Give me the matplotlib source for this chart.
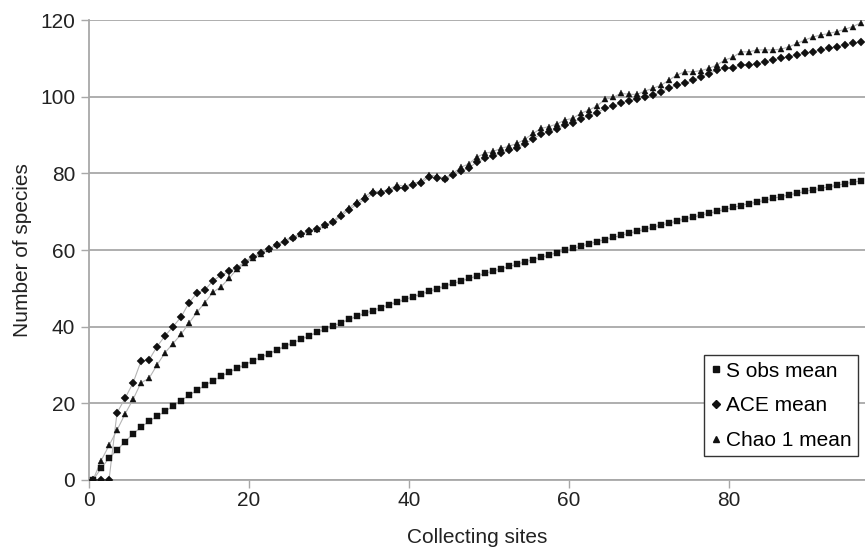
import numpy as np
import matplotlib
matplotlib.use("Agg")
import matplotlib.pyplot as plt
from matplotlib.lines import Line2D

plt.rcParams['font.family'] = ['Liberation Sans', 'DejaVu Sans']

# --- DATA (number of collecting sites 0..96) ---
sites = np.arange(0, 97)

s_obs_mean = [
    0, 3, 5.7, 7.8, 10, 12, 13.8, 15.3, 16.6, 17.9,
    19.3, 20.7, 22.1, 23.4, 24.7, 25.9, 27, 28.1, 29.1, 30.1,
    31.1, 32, 33, 33.9, 34.9, 35.8, 36.7, 37.6, 38.5, 39.4,
    40.2, 41, 41.9, 42.7, 43.5, 44.2, 45, 45.7, 46.4, 47.1,
    47.8, 48.5, 49.2, 49.9, 50.6, 51.3, 51.9, 52.6, 53.2, 53.9,
    54.5, 55.1, 55.7, 56.3, 56.9, 57.5, 58.1, 58.7, 59.3, 59.9,
    60.5, 61, 61.6, 62.2, 62.7, 63.3, 63.8, 64.4, 64.9, 65.4,
    66, 66.5, 67, 67.6, 68.1, 68.6, 69.1, 69.6, 70.1, 70.6,
    71.1, 71.6, 72.1, 72.5, 73, 73.5, 73.9, 74.4, 74.8, 75.3,
    75.7, 76.1, 76.5, 76.9, 77.3, 77.7, 78,
]

ace_mean = [
    0, 0, 0, 17.5, 21.3, 25.3, 31, 31.3, 34.8, 37.6,
    40, 42.5, 46.2, 48.8, 49.6, 52, 53.4, 54.4, 55.4, 57,
    58.3, 59.2, 60.3, 61.3, 62.2, 63.2, 64.1, 65, 65.6, 66.4,
    67.2, 68.8, 70.5, 71.9, 73.3, 74.8, 75, 75.5, 76.3, 76.3,
    77, 77.5, 79, 78.8, 78.5, 79.6, 80.6, 81.4, 83, 83.9,
    84.5, 85.3, 86, 86.6, 87.7, 89, 90.2, 90.8, 91.6, 92.6,
    93.2, 94.3, 95, 95.8, 97, 97.5, 98.3, 99, 99.3, 100,
    100.4, 101.3, 102.2, 103, 103.5, 104.3, 105.2, 106, 107, 107.4,
    107.4, 108.3, 108.3, 108.5, 109.1, 109.6, 110, 110.4, 110.9, 111.3,
    111.7, 112.2, 112.6, 113, 113.5, 113.9, 114.3,
]

chao1_mean = [
    0, 5, 9, 13, 17.2, 21, 25.4, 26.5, 30, 33.2,
    35.6, 38, 40.9, 43.8, 46.3, 49, 50.4, 52.6, 55, 56.6,
    58, 59, 60.3, 61.5, 62.6, 63.4, 64.2, 64.8, 65.5, 66.5,
    67.5, 69.3, 71, 72.5, 74, 75.3, 75.3, 75.8, 77, 76.6,
    77.4, 77.9, 79.6, 79.2, 78.8, 80, 81.6, 82.5, 84.3, 85.2,
    85.7, 86.5, 87.1, 87.8, 88.9, 90.4, 91.7, 92.2, 92.9, 93.9,
    94.4, 95.7, 96.5, 97.6, 99.3, 99.8, 100.9, 100.6, 100.6, 101.5,
    102.2, 103, 104.3, 105.7, 106.5, 106.5, 106.8, 107.4, 108.3, 109.6,
    110.3, 111.7, 111.7, 112.2, 112.2, 112.2, 112.4, 113, 113.9, 114.8,
    115.6, 116.1, 116.5, 117, 117.6, 118.3, 119.3,
]

labels = ['S obs mean', 'ACE mean', 'Chao 1 mean']
markers = ['s', 'D', '^']
sizes = [4, 4, 5]

# --- PLOT ---
fig = plt.figure(figsize=(8.65, 5.47), dpi=100)
ax = fig.add_axes([0.1029, 0.1225, 0.8971, 0.8409])

# categories sit in the middle of each slot (excel style)
xpos = sites + 0.5
for vals, m, ms in zip([s_obs_mean, ace_mean, chao1_mean], markers, sizes):
    ax.plot(xpos, vals, color='#b4b4b4', linewidth=0.8, zorder=2)
    ax.plot(xpos, vals, linestyle='none', marker=m, markersize=ms,
            markerfacecolor='#111111', markeredgecolor='#111111',
            markeredgewidth=0.3, zorder=3)

ax.set_xlim(0, 97)
ax.set_ylim(0, 120)
ax.set_xticks([0, 20, 40, 60, 80])
ax.set_yticks(np.arange(0, 121, 20))

ax.grid(axis='y', color='#a8a8a8', linewidth=1.3)
ax.set_axisbelow(True)
for side in ['top', 'right']:
    ax.spines[side].set_visible(False)
ax.spines['left'].set_color('#a8a8a8')
ax.spines['bottom'].set_color('#a8a8a8')
ax.spines['left'].set_linewidth(1.3)
ax.spines['bottom'].set_linewidth(1.3)
ax.tick_params(axis='both', colors='#a8a8a8', labelcolor='#222222',
               labelsize=15, length=6, width=1)
ax.tick_params(axis='x', pad=2)
ax.tick_params(axis='y', pad=4)

ax.set_xlabel('Collecting sites', fontsize=15, color='#222222', labelpad=13)
ax.set_ylabel('Number of species', fontsize=15, color='#222222', labelpad=6)

handles = [Line2D([], [], linestyle='none', marker=m, markersize=4,
                  color='#111111') for m in markers]
leg = ax.legend(handles, labels, loc='lower right',
                bbox_to_anchor=(0.991, 0.052), borderaxespad=0,
                fontsize=15, handlelength=0.5, handletextpad=0.25,
                labelspacing=0.75, borderpad=0.3, fancybox=False,
                framealpha=1, edgecolor='#333333')
leg.get_frame().set_linewidth(1.0)

plt.savefig('out.png', dpi=100)
